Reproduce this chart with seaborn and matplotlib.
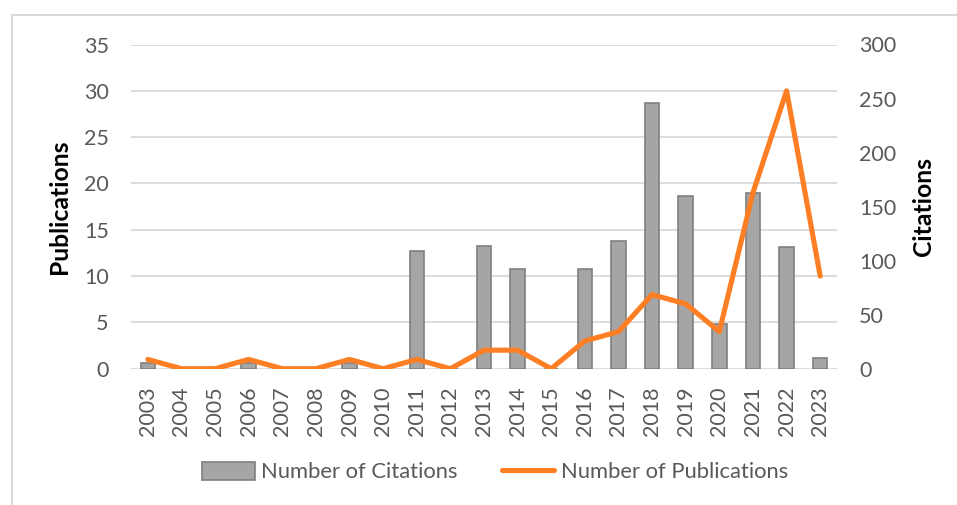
import matplotlib
matplotlib.use("Agg")
import matplotlib.pyplot as plt
from matplotlib.lines import Line2D
from matplotlib.patches import Patch, Rectangle
import seaborn as sns
import pandas as pd

years = [str(y) for y in range(2003, 2024)]
citations = [5, 0, 0, 5, 0, 0, 5, 0, 109, 0, 114, 92, 0, 92, 118, 246, 160, 41, 163, 113, 10]
publications = [1, 0, 0, 1, 0, 0, 1, 0, 1, 0, 2, 2, 0, 3, 4, 8, 7, 4, 19, 30, 10]
pub_ticks = [0, 5, 10, 15, 20, 25, 30, 35]
cit_ticks = [0, 50, 100, 150, 200, 250, 300]

df = pd.DataFrame({"year": years, "citations": citations, "publications": publications})

sns.set_theme(style="white")
plt.rcParams["font.family"] = ["Lato", "DejaVu Sans"]

TXT = "#595959"
BAR = "#A5A5A5"
BAR_EDGE = "#7F7F7F"
LINE = "#FD7E23"
GRID = "#D9D9D9"

fig = plt.figure(figsize=(9.57, 5.05), dpi=100)
ax = fig.add_axes([131 / 957, 1 - 368.7 / 505, 706 / 957, (368.7 - 44.5) / 505])

sns.lineplot(data=df, x="year", y="publications", ax=ax, color=LINE, linewidth=3.7,
             sort=False, solid_capstyle="round", solid_joinstyle="round")

ax2 = ax.twinx()
sns.barplot(data=df, x="year", y="citations", ax=ax2, color=BAR, saturation=1,
            width=0.43, edgecolor=BAR_EDGE, linewidth=1.2, zorder=2)

ax.set_zorder(ax2.get_zorder() + 1)
ax.patch.set_visible(False)

ax.set_ylim(0, 35)
ax2.set_ylim(0, 300)
ax.set_xlim(-0.5, len(years) - 0.5)

for v in pub_ticks:
    ax2.add_line(Line2D([0, 1], [v, v], transform=ax.get_yaxis_transform(),
                        color=GRID, linewidth=1.3, zorder=1))

ax.set_yticks(pub_ticks)
ax2.set_yticks(cit_ticks)
ax.set_xticks(range(len(years)))
ax.set_xticklabels(years, rotation=90)

for a in (ax, ax2):
    for s in a.spines.values():
        s.set_visible(False)
    a.tick_params(length=0, labelsize=15.5, labelcolor=TXT)
ax.tick_params(axis="y", pad=16)
ax2.tick_params(axis="y", pad=16)
ax.tick_params(axis="x", pad=13)

ax.set_xlabel("")
ax.set_ylabel("Publications", fontsize=17.8, fontweight="bold", color="black")
ax2.set_ylabel("Citations", fontsize=17.8, fontweight="bold", color="black")
ax.yaxis.set_label_coords(-0.085, 0.5)
ax2.yaxis.set_label_coords(1.106, 0.5)

handles = [Patch(facecolor=BAR, edgecolor=BAR_EDGE, linewidth=1.2),
           Line2D([0], [0], color=LINE, linewidth=3.7, solid_capstyle="round")]
leg = fig.legend(handles, ["Number of Citations", "Number of Publications"],
                 loc="center", bbox_to_anchor=(495 / 957, 1 - 472 / 505), ncol=2,
                 frameon=False, fontsize=15.8, handlelength=2.4, handleheight=0.9,
                 handletextpad=0.3, columnspacing=2.0)
for t in leg.get_texts():
    t.set_color(TXT)

fig.patches.append(Rectangle((12 / 957, -0.1), 1.2, 1.1 - 15 / 505, transform=fig.transFigure,
                             fill=False, edgecolor=GRID, linewidth=1.5))

fig.savefig("out.png", dpi=100)
